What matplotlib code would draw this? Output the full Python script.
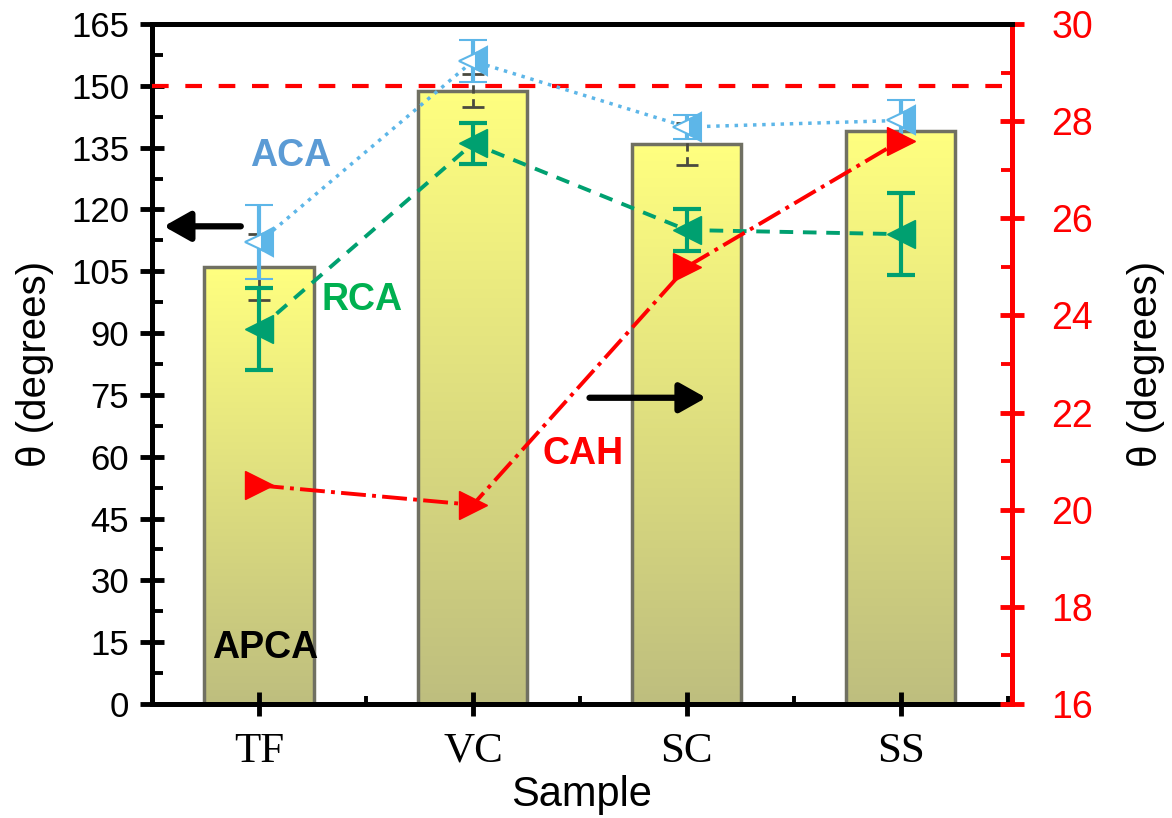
import numpy as np
import matplotlib
matplotlib.use('Agg')
import matplotlib.pyplot as plt
from matplotlib.colors import LinearSegmentedColormap
from matplotlib.ticker import MultipleLocator

plt.rcParams['font.family'] = ['Liberation Sans', 'DejaVu Sans']

# data
samples = ['TF', 'VC', 'SC', 'SS']
apca = [106, 148.8, 135.9, 139]
apca_err = [8, 4, 5, 2.6]
aca = [112, 156, 140, 141.6]
aca_err = [9, 5, 3, 5]
rca = [91, 136, 115, 114]
rca_err = [10, 5, 5, 10]
cah = [20.5, 20.1, 25.0, 27.6]

blue = '#5DB6E8'
green = '#00A070'
red = '#FF0000'

fig = plt.figure(figsize=(11.72, 8.18), dpi=100)
ax = fig.add_axes([0.1297, 0.1394, 0.7338, 0.8313])

x = np.arange(len(samples))
w = 0.51

# gradient filled bars
cmap = LinearSegmentedColormap.from_list('apca', ['#BEBE7E', '#FFFF80'])
grad = np.linspace(0, 1, 256).reshape(-1, 1)
for xi, h in zip(x, apca):
    ax.imshow(grad, extent=[xi - w / 2, xi + w / 2, 0, h], aspect='auto',
              cmap=cmap, origin='lower', zorder=1, interpolation='bilinear')
ax.bar(x, apca, width=w, facecolor='none', edgecolor='#707062', linewidth=2.5, zorder=2)

eb = ax.errorbar(x, apca, yerr=apca_err, fmt='none', ecolor='#4A4A40',
                 elinewidth=2, capsize=8, capthick=2, zorder=3)
eb[2][0].set_linestyle((0, (3, 2)))

ax.axhline(150, color=red, lw=3, dashes=(4, 4), zorder=3)

# ACA
ax.errorbar(x, aca, yerr=aca_err, color=blue, ls=':', lw=2.5,
            marker='<', ms=20, fillstyle='right', markerfacecoloralt='white',
            mec=blue, mew=1.5, ecolor=blue, elinewidth=3, capsize=10, capthick=3, zorder=4)
# RCA
ax.errorbar(x, rca, yerr=rca_err, color=green, ls=(0, (3.5, 2.5)), lw=2.8,
            marker='<', ms=20, mec=green, mfc=green, ecolor=green,
            elinewidth=3, capsize=10, capthick=3, zorder=5)

ax.set_xlim(-0.5, 3.52)
ax.set_ylim(0, 165)
ax.yaxis.set_major_locator(MultipleLocator(15))
ax.yaxis.set_minor_locator(MultipleLocator(7.5))
ax.set_xticks(x)
ax.set_xticklabels(samples, fontfamily='Liberation Serif', fontsize=31)
ax.xaxis.set_minor_locator(MultipleLocator(0.5))
ax.tick_params(axis='both', which='major', direction='inout', length=17, width=3.5, labelsize=25)
ax.tick_params(axis='x', which='major', labelsize=31, pad=12)
ax.tick_params(axis='both', which='minor', direction='in', length=8, width=2.8)
ax.tick_params(axis='x', which='minor', length=6)
ax.tick_params(axis='y', which='major', pad=8)
for s in ['left', 'bottom', 'top']:
    ax.spines[s].set_linewidth(3.6)
ax.spines['right'].set_visible(False)
ax.set_xlabel('Sample', fontsize=30, labelpad=3)
ax.set_ylabel('θ (degrees)', fontsize=29, labelpad=12)

# text labels and arrows
ax.text(0.15, 133, 'ACA', color='#5B9BD5', fontsize=27, fontweight='bold', ha='center', va='center', zorder=6)
ax.text(0.48, 98, 'RCA', color='#00B050', fontsize=27, fontweight='bold', ha='center', va='center', zorder=6)
ax.text(0.03, 13.6, 'APCA', color='black', fontsize=27, fontweight='bold', ha='center', va='center', zorder=6)
ax.annotate('', xy=(-0.445, 115.9), xytext=(-0.085, 115.9),
            arrowprops=dict(arrowstyle='-|>,head_length=0.8,head_width=0.45', lw=4.5,
                            color='black', shrinkA=0, shrinkB=0, mutation_scale=20), zorder=6)
ax.annotate('', xy=(2.09, 74.3), xytext=(1.545, 74.3),
            arrowprops=dict(arrowstyle='-|>,head_length=0.8,head_width=0.45', lw=4.5,
                            color='black', shrinkA=0, shrinkB=0, mutation_scale=20), zorder=6)

# right axis: CAH
ax2 = ax.twinx()
ax2.plot(x, cah, color=red, ls='-.', lw=2.8, marker='>', ms=20, mfc=red, mec=red)
ax2.set_ylim(16, 30)
ax2.yaxis.set_major_locator(MultipleLocator(2))
ax2.yaxis.set_minor_locator(MultipleLocator(1))
ax2.tick_params(axis='y', which='major', direction='inout', length=17, width=3.5,
                labelsize=27, colors=red, pad=20)
ax2.tick_params(axis='y', which='minor', direction='in', length=8, width=2.8, colors=red)
ax2.spines['right'].set_color(red)
ax2.spines['right'].set_linewidth(3.6)
ax2.spines['left'].set_visible(False)
ax2.spines['bottom'].set_visible(False)
ax2.spines['top'].set_linewidth(3.6)
ax2.set_ylabel('θ (degrees)', fontsize=29, labelpad=24)
ax2.text(1.514, 21.15, 'CAH', color=red, fontsize=27,
         fontweight='bold', ha='center', va='center')

fig.savefig('out.png', dpi=100, facecolor='white')
